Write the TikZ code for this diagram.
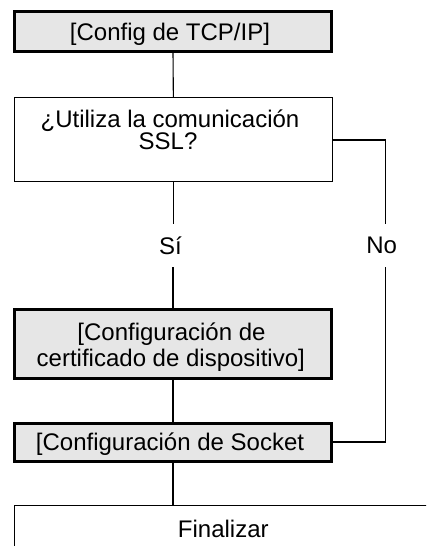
\documentclass[tikz,border=0pt]{standalone}
\usepackage{fontspec}
\setmainfont{Liberation Sans}
\definecolor{boxgray}{RGB}{230,230,230}
\begin{document}
\begin{tikzpicture}[x=1pt,y=-1pt,
  gbox/.style={rectangle, draw=black, line width=3.3pt, fill=boxgray, inner sep=0pt, outer sep=0pt},
  wbox/.style={rectangle, draw=black, line width=1.2pt, fill=white, inner sep=0pt, outer sep=0pt},
  txt/.style={anchor=base, inner sep=0pt, outer sep=0pt, font=\fontsize{24}{22}\selectfont},
  lbl/.style={rectangle, inner sep=0pt, outer sep=0pt, minimum height=43pt, font=\fontsize{24}{22}\selectfont},
  conn/.style={draw=black, line width=1.1pt}]
\useasboundingbox (0,0) rectangle (426,546);
\clip (0,0) rectangle (426,546);
% boxes
\node[gbox, minimum width=316.7pt, minimum height=40pt] (tcp) at (173,31.65) {};
\node[wbox, minimum width=317.5pt, minimum height=83.8pt] (q) at (173.35,139.2) {};
\node[gbox, minimum width=316.7pt, minimum height=68.7pt] (cert) at (173,344) {};
\node[gbox, minimum width=316.7pt, minimum height=37.7pt] (sock) at (173,442.5) {};
\node[wbox, anchor=north west, minimum width=440pt, minimum height=80pt] (fin) at (14.6,505.6) {};
% texts
\node[txt] (tcpt) at (170,40) {[Config de TCP/IP]};
\node[txt] (qt1) at (170,127) {¿Utiliza la comunicación};
\node[txt] (qt2) at (168,149) {SSL?};
\node[txt] (certt1) at (171.5,340) {[Configuración de};
\node[txt] (certt2) at (170.8,366.7) {certificado de dispositivo]};
\node[txt] (sockt) at (170,450) {[Configuración de Socket};
\node[txt] (fint) at (223.3,537) {Finalizar};
% labels
\node[lbl] (si) at (170.5,245.5) {Sí};
\node[lbl] (no) at (381.7,245.5) {No};
\coordinate (nc1) at (385.5,140);
\coordinate (nc2) at (385.5,442);
% connectors
\draw[conn] (tcp.south) -- (q.north);
\draw[conn] (q.south) -- (q.south |- si.north);
\draw[conn] (cert.north |- si.south) -- (cert.north);
\draw[conn] (cert.south) -- (sock.north);
\draw[conn] (sock.south) -- (sock.south |- fin.north);
\draw[conn] (q.east |- nc1) -- (nc1) -- (nc1 |- no.north);
\draw[conn] (nc2 |- no.south) -- (nc2) -- (sock.east |- nc2);
\end{tikzpicture}
\end{document}
